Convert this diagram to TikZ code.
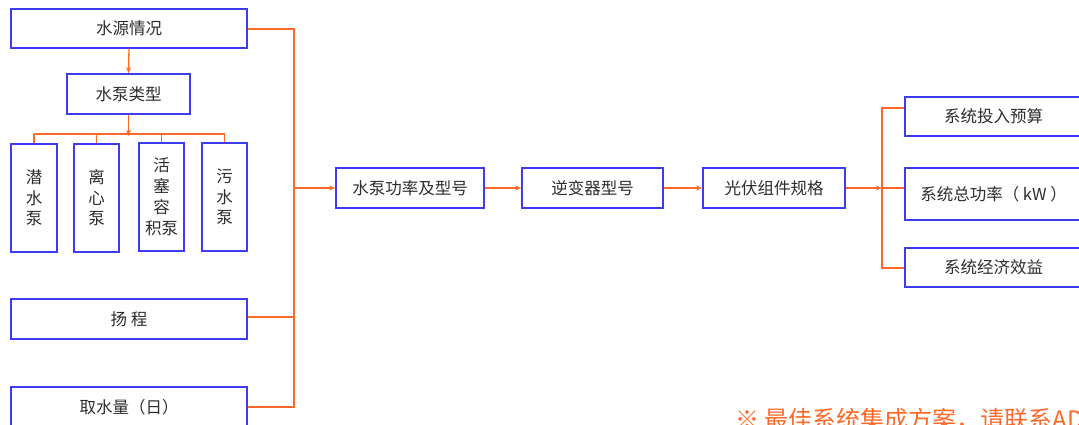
\documentclass[tikz,border=0pt]{standalone}
\usepackage{fontspec}
\setmainfont{Noto Sans CJK SC}
\usetikzlibrary{arrows.meta}
\definecolor{bblue}{RGB}{60,60,245}
\definecolor{lorange}{RGB}{255,105,40}
\definecolor{tgray}{RGB}{45,45,45}
\begin{document}
\begin{tikzpicture}[x=1pt,y=-1pt,
  box/.style={draw=bblue,line width=1.5pt,fill=white,inner sep=0pt,text=tgray,
    font=\fontsize{16.5}{20}\selectfont,align=center},
  conn/.style={draw=lorange,line width=1.3pt},
  arr/.style={conn,-{Stealth[length=6pt,width=5pt]}}]
\useasboundingbox (0,0) rectangle (1079,425);
\clip (0,0) rectangle (1079,425);
% left column
\node[box,minimum width=236,minimum height=39] (src) at (129,28.5) {水源情况};
\node[box,minimum width=123,minimum height=40] (type) at (128.5,94) {水泵类型};
\node[box,minimum width=46,minimum height=108,font=\fontsize{16.5}{20.5}\selectfont] (b1) at (34,198) {潜\\水\\泵};
\node[box,minimum width=45,minimum height=108,font=\fontsize{16.5}{20.5}\selectfont] (b2) at (96.5,198) {离\\心\\泵};
\node[box,minimum width=45,minimum height=108,font=\fontsize{16.5}{21}\selectfont] (b3) at (161.5,197) {活\\塞\\容\\积泵};
\node[box,minimum width=45,minimum height=108,font=\fontsize{16.5}{20.5}\selectfont] (b4) at (224.5,197) {污\\水\\泵};
\node[box,minimum width=236,minimum height=40] (head) at (129,319) {扬\ 程};
\node[box,minimum width=236,minimum height=40] (qs) at (129,407) {取水量（日）};
% middle chain
\node[box,minimum width=148,minimum height=40] (pw) at (410,188) {水泵功率及型号};
\node[box,minimum width=141,minimum height=40] (inv) at (592.5,188) {逆变器型号};
\node[box,minimum width=142,minimum height=40] (pv) at (774,188) {光伏组件规格};
% right column
\node[box,minimum width=177,minimum height=39] (r1) at (993.5,116.5) {系统投入预算};
\node[box,minimum width=177,minimum height=52] (r2) at (993.5,194) {系统总功率（ kW ）};
\node[box,minimum width=177,minimum height=39] (r3) at (993.5,267.5) {系统经济效益};
% note
\node[anchor=north west,inner sep=0pt,text=lorange,font=\fontsize{24}{28}\selectfont] (note) at (735,408) {※ 最佳系统集成方案，请联系ADA};
% connectors left
\draw[arr] (src.south) -- (type.north);
\coordinate (bt) at (128.5,134);
\draw[conn] (type.south) -- (bt);
\draw[arr] (type.south) -- ([yshift=-2pt]bt);
\draw[conn] (b1.north |- bt) -- (b4.north |- bt);
\foreach \b in {b1,b2,b3,b4} \draw[conn] (\b.north |- bt) -- (\b.north);
\coordinate (lt) at (294,29);
\coordinate (lb) at (294,407);
\draw[conn] (src.east |- lt) -- (lt) -- (lb) -- (qs.east |- lb);
\coordinate (lh) at (294,317);
\draw[conn] (head.east |- lh) -- (lh);
\coordinate (lm) at (294,188);
\draw[arr] (lm) -- (pw.west);
\draw[arr] (pw.east) -- (inv.west);
\draw[arr] (inv.east) -- (pv.west);
% right bus
\coordinate (rm) at (882,188);
\coordinate (rt) at (882,108);
\coordinate (rb) at (882,268);
\draw[arr] (pv.east) -- (rm);
\draw[conn] (r1.west |- rt) -- (rt) -- (rb) -- (r3.west |- rb);
\draw[conn] (rm) -- (r2.west |- rm);
\end{tikzpicture}
\end{document}
